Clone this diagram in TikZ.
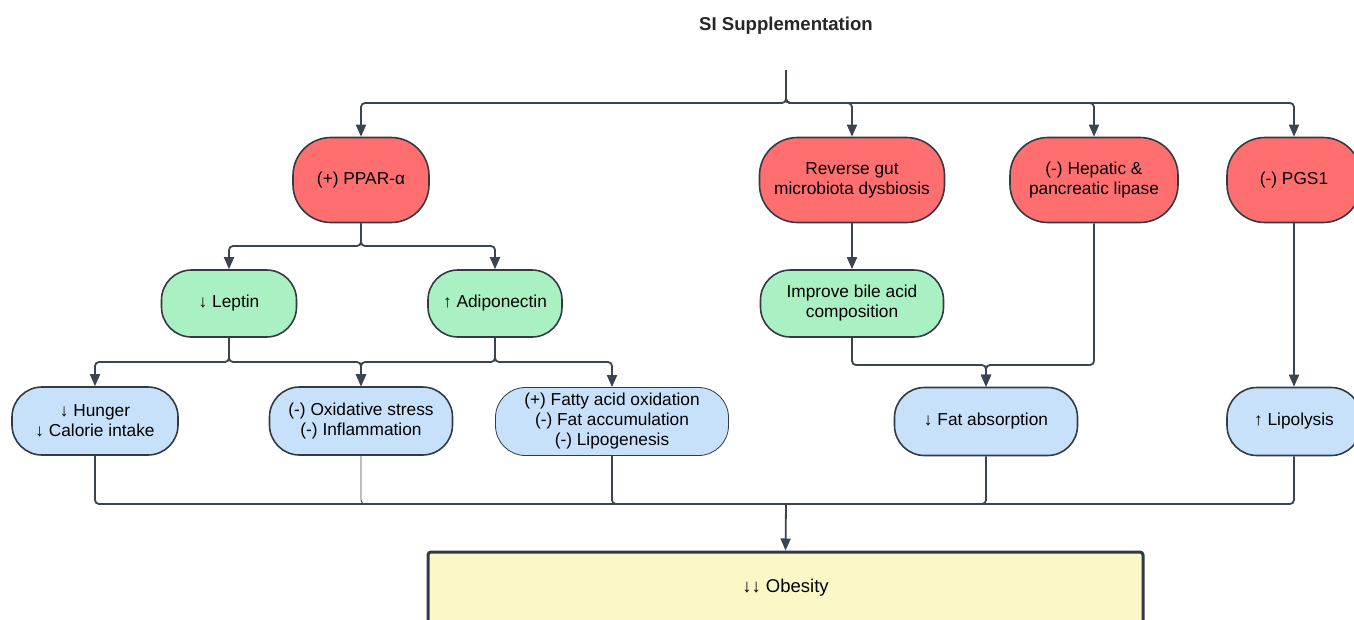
\documentclass[tikz,border=0pt]{standalone}
\usepackage{fontspec}
\setmainfont{Liberation Sans}
\usetikzlibrary{arrows.meta}
\definecolor{redf}{HTML}{FF6F6F}
\definecolor{greenf}{HTML}{A9F1C3}
\definecolor{bluef}{HTML}{C7E1FB}
\definecolor{yellowf}{HTML}{F9F8C6}
\definecolor{strk}{HTML}{333A42}
\definecolor{linec}{HTML}{3B4451}
\tikzset{
  box/.style={draw=strk, line width=1.6pt, align=center, inner sep=0pt,
    font=\fontsize{17.3}{20}\selectfont},
  redbox/.style={box, fill=redf, minimum height=85pt, rounded corners=38pt},
  greenbox/.style={box, fill=greenf, minimum height=67pt, rounded corners=30pt},
  bluebox/.style={box, fill=bluef, minimum height=68pt, rounded corners=30pt},
  conn/.style={draw=linec, line width=1.8pt, rounded corners=4pt},
  arr/.style={conn, -{Triangle[length=12pt,width=10pt]}},
  thin/.style={draw=linec, line width=0.9pt, rounded corners=4pt},
}
\begin{document}
\begin{tikzpicture}[x=1pt,y=-1pt]
\useasboundingbox (0,0) rectangle (1354,619);
% title
\node[font=\fontsize{18.6}{20}\selectfont\bfseries, text=black!85] (title) at (786,26) {SI Supplementation};
\coordinate (src) at (786,70);
\coordinate (jtop) at (786,103);
% row 1
\node[redbox, minimum width=136pt] (ppar) at (361,180) {(+) PPAR-α};
\node[redbox, minimum width=185pt] (gut) at (852,180) {Reverse gut\\microbiota dysbiosis};
\node[redbox, minimum width=168pt] (hep) at (1094,180) {(-) Hepatic \&\\pancreatic lipase};
\node[redbox, minimum width=134pt] (pgs) at (1294,180) {(-) PGS1};
% row 2
\node[greenbox, minimum width=135pt] (leptin) at (229,303.5) {↓ Leptin};
\node[greenbox, minimum width=134pt] (adipo) at (495,303.5) {↑ Adiponectin};
\node[greenbox, minimum width=183pt] (bile) at (852,303.5) {Improve bile acid\\composition};
% row 3
\node[bluebox, minimum width=166pt] (hunger) at (95,421) {↓ Hunger\\↓ Calorie intake};
\node[bluebox, minimum width=183pt] (oxid) at (361,421) {(-) Oxidative stress\\(-) Inflammation};
\node[bluebox, minimum width=233pt, line width=0.8pt] (fatty) at (612,421.5) {(+) Fatty acid oxidation\\(-) Fat accumulation\\(-) Lipogenesis};
\node[bluebox, minimum width=183pt] (fatabs) at (986,421.5) {↓ Fat absorption};
\node[bluebox, minimum width=134pt] (lipo) at (1294,421.5) {↑ Lipolysis};
% obesity
\node[box, fill=yellowf, line width=3pt, rounded corners=3pt, minimum width=715pt, minimum height=74pt, font=\fontsize{18.5}{20}\selectfont] (obesity) at (785.5,589) {\raisebox{6pt}{↓↓ Obesity}};
% connectors top
\draw[arr] (src) -- (jtop) -| (ppar.north);
\draw[arr] (src) -- (jtop) -| (gut.north);
\draw[arr] (src) -- (jtop) -| (hep.north);
\draw[arr] (src) -- (jtop) -| (pgs.north);
% ppar -> leptin/adipo
\coordinate (jp) at (361,246);
\draw[arr] (ppar.south) -- (jp) -| (leptin.north);
\draw[arr] (ppar.south) -- (jp) -| (adipo.north);
% leptin/adipo -> row 3
\coordinate (jl) at (229,362);
\coordinate (ja) at (495,362);
\draw[arr] (leptin.south) -- (jl) -| (hunger.north);
\draw[arr] (leptin.south) -- (jl) -| (oxid.north);
\draw[arr] (adipo.south) -- (ja) -| (oxid.north);
\draw[arr] (adipo.south) -- (ja) -| (fatty.north);
% gut -> bile
\draw[arr] (gut.south) -- (bile.north);
% bile/hep -> fat absorption
\coordinate (jbile) at (852,365);
\coordinate (jhep) at (1094,365);
\draw[arr] (bile.south) -- (jbile) -| (fatabs.north);
\draw[arr] (hep.south) -- (jhep) -| (fatabs.north);
% pgs -> lipolysis
\draw[arr] (pgs.south) -- (lipo.north);
% bottom merge
\coordinate (jb) at (786,504);
\draw[conn] (hunger.south) |- (jb);
\draw[thin] (oxid.south) |- (jb);
\draw[conn] (fatty.south) |- (jb);
\draw[conn] (fatabs.south) |- (jb);
\draw[conn] (lipo.south) |- (jb);
\draw[arr] (jb) -- (obesity.north);
\end{tikzpicture}
\end{document}
